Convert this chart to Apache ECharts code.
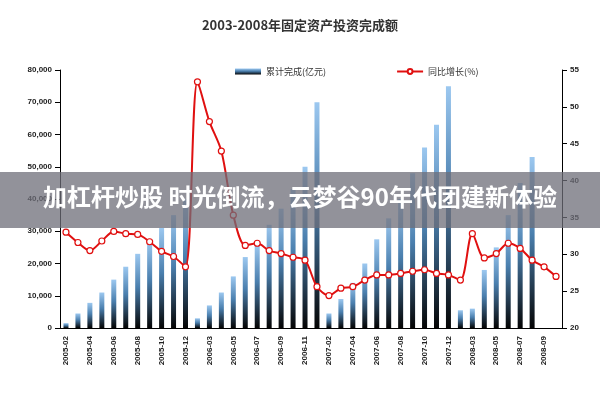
<!DOCTYPE html>
<html><head><meta charset="utf-8">
<script src="https://cdn.jsdelivr.net/npm/echarts@6/dist/echarts.min.js"></script>
<style>html,body{margin:0;padding:0;background:#fff}#c{width:600px;height:400px}</style>
</head><body><div id="c"></div>
<script>
const categories = [
 "2005-02","2005-03","2005-04","2005-05","2005-06","2005-07","2005-08","2005-09","2005-10","2005-11","2005-12",
 "2006-02","2006-03","2006-04","2006-05","2006-06","2006-07","2006-08","2006-09","2006-10","2006-11","2006-12",
 "2007-02","2007-03","2007-04","2007-05","2007-06","2007-07","2007-08","2007-09","2007-10","2007-11","2007-12",
 "2008-02","2008-03","2008-04","2008-05","2008-06","2008-07","2008-08","2008-09","2008-10"];
const cumulative = [
 1500,4500,7800,11000,15000,19000,23000,27000,31000,35000,40000,
 3000,7000,11000,16000,22000,26000,32000,37000,43000,50000,70000,
 4500,9000,14000,20000,27500,34000,40000,48000,56000,63000,75000,
 5500,6000,18000,25000,35000,45000,53000,null,null];
const growth = [
 33.0,31.6,30.5,31.8,33.1,32.8,32.7,31.7,30.4,29.7,28.3,
 53.4,48.0,44.0,35.3,31.2,31.5,30.5,30.1,29.6,29.2,25.6,
 24.4,25.4,25.6,26.5,27.2,27.2,27.4,27.7,27.9,27.4,27.2,
 26.5,32.8,29.5,30.1,31.5,30.8,29.2,28.3,27.0];
const leftTicks = [0,10000,20000,30000,40000,50000,60000,70000,80000];
const rightTicks = [20,25,30,35,40,45,50,55];
const chart = echarts.init(document.getElementById('c'));
const font = '"Noto Sans CJK SC", sans-serif';
chart.setOption({
 animation:false,
 title:{text:'2003-2008年固定资产投资完成额',left:'center',top:14,textStyle:{fontSize:13,fontWeight:'bold',color:'#333',fontFamily:font}},
 legend:{top:62,left:230,itemGap:70,itemWidth:26,itemHeight:6,textStyle:{fontSize:9,color:'#333',fontFamily:font},
   data:[{name:'累计完成(亿元)',icon:'rect'},{name:'同比增长(%)'}]},
 grid:{left:60,right:38,top:70,bottom:72},
 xAxis:{type:'category',data:categories,axisLine:{lineStyle:{color:'#000'}},axisTick:{show:false},
   axisLabel:{rotate:90,interval:1,fontSize:8,color:'#222',fontWeight:'bold'}},
 yAxis:[
  {type:'value',min:leftTicks[0],max:leftTicks[leftTicks.length-1],interval:10000,splitLine:{show:false},
   axisLine:{show:true,lineStyle:{color:'#000'}},axisTick:{show:true},
   axisLabel:{fontSize:8,color:'#222',fontWeight:'bold'}},
  {type:'value',min:rightTicks[0],max:rightTicks[rightTicks.length-1],interval:5,splitLine:{show:false},
   axisLine:{show:true,lineStyle:{color:'#000'}},axisTick:{show:true},
   axisLabel:{fontSize:8,color:'#222',fontWeight:'bold'}}],
 series:[
  {name:'累计完成(亿元)',type:'bar',data:cumulative,barWidth:5,
   itemStyle:{color:new echarts.graphic.LinearGradient(0,0,0,1,[{offset:0,color:'#9cc8f0'},{offset:0.45,color:'#4a7fae'},{offset:1,color:'#050505'}])}},
  {name:'同比增长(%)',type:'line',yAxisIndex:1,data:growth,smooth:0.3,symbol:'circle',symbolSize:6,
   lineStyle:{color:'#e01010',width:2},itemStyle:{color:'#fff',borderColor:'#e01010',borderWidth:1.2}}],
 graphic:[
  {type:'rect',left:0,top:172,shape:{width:600,height:56},style:{fill:'rgba(110,110,120,0.75)'},z:100},
  {type:'text',left:'center',top:185,style:{text:'加杠杆炒股 时光倒流，云梦谷90年代团建新体验',fill:'#fff',font:'bold 24px "Noto Sans CJK SC"'},z:101}]
});
</script></body></html>
